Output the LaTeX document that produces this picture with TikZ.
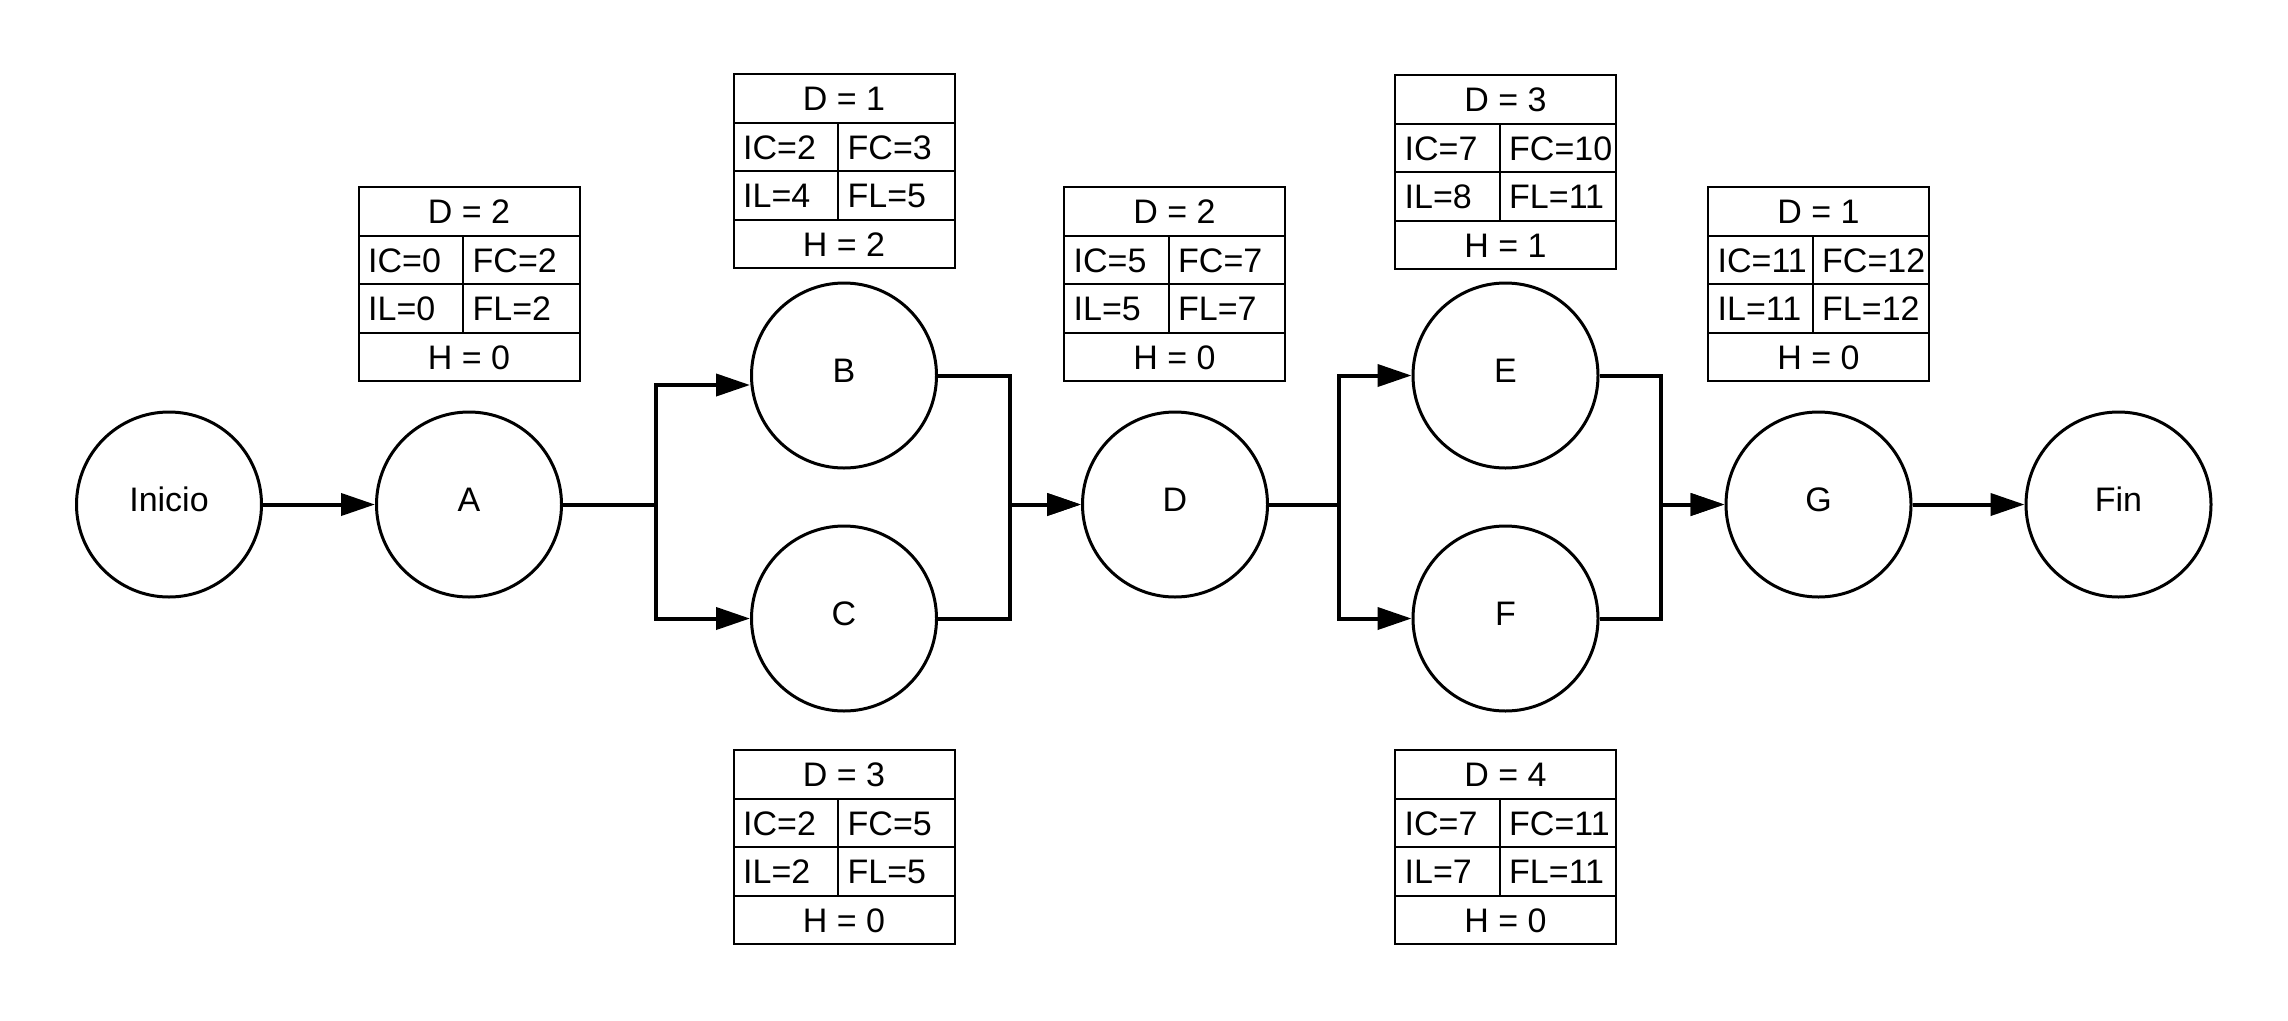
\documentclass[tikz,border=0pt]{standalone}
\usepackage{fontspec}
\setmainfont{Liberation Sans}
\usetikzlibrary{arrows.meta}
\newcommand{\cpmtab}[9]{%
  \node[tabbox] (#1) at (#2,#3) {};
  \foreach \k in {1,2,3} \draw[tabline] ([yshift=-\k*48.5pt]#1.north west) -- ([yshift=-\k*48.5pt]#1.north east);
  \draw[tabline] ([xshift=104.5pt,yshift=-48.5pt]#1.north west) -- ([xshift=104.5pt,yshift=-145.5pt]#1.north west);
  \node[tabtext] (#1d) at ([yshift=-24.25pt]#1.north) {#4};
  \node[tabtext,anchor=west] (#1ic) at ([xshift=9.5pt,yshift=-72.75pt]#1.north west) {#5};
  \node[tabtext,anchor=west] (#1fc) at ([xshift=114pt,yshift=-72.75pt]#1.north west) {#6};
  \node[tabtext,anchor=west] (#1il) at ([xshift=9.5pt,yshift=-121.25pt]#1.north west) {#7};
  \node[tabtext,anchor=west] (#1fl) at ([xshift=114pt,yshift=-121.25pt]#1.north west) {#8};
  \node[tabtext] (#1h) at ([yshift=-169.75pt]#1.north) {#9};
}
\begin{document}
\begin{tikzpicture}[x=1pt,y=-1pt,
  every node/.style={font=\fontsize{34}{40}\selectfont},
  evt/.style={circle, draw, line width=3pt, minimum size=185pt, inner sep=0pt, text height=25pt, text depth=12pt},
  conn/.style={line width=4pt, line join=miter},
  arr/.style={-{Triangle[length=34pt,width=22pt]}},
  tabbox/.style={draw, line width=2pt, minimum width=221pt, minimum height=194pt, inner sep=0pt, outer sep=0pt, anchor=north},
  tabline/.style={line width=2pt},
  tabtext/.style={inner sep=0pt, text height=24.8pt, text depth=0pt}]
\fill[white] (0,0) rectangle (2288,1020);
\useasboundingbox (0,0) rectangle (2288,1020);

% events
\node[evt] (Inicio) at (169,504.5) {Inicio};
\node[evt] (A) at (469,504.5) {A};
\node[evt] (B) at (844,375.5) {B};
\node[evt] (C) at (844,618.5) {C};
\node[evt] (D) at (1175,504.5) {D};
\node[evt] (E) at (1505.5,375.5) {E};
\node[evt] (F) at (1505.5,618.5) {F};
\node[evt] (G) at (1818.5,504.5) {G};
\node[evt] (Fin) at (2118.5,504.5) {Fin};

% tables
\cpmtab{tA}{469}{187}{D = 2}{IC=0}{FC=2}{IL=0}{FL=2}{H = 0}
\cpmtab{tB}{844}{74}{D = 1}{IC=2}{FC=3}{IL=4}{FL=5}{H = 2}
\cpmtab{tC}{844}{750}{D = 3}{IC=2}{FC=5}{IL=2}{FL=5}{H = 0}
\cpmtab{tD}{1174.5}{187}{D = 2}{IC=5}{FC=7}{IL=5}{FL=7}{H = 0}
\cpmtab{tE}{1505.5}{75}{D = 3}{IC=7}{FC=10}{IL=8}{FL=11}{H = 1}
\cpmtab{tF}{1505.5}{750}{D = 4}{IC=7}{FC=11}{IL=7}{FL=11}{H = 0}
\cpmtab{tG}{1818.5}{187}{D = 1}{IC=11}{FC=12}{IL=11}{FL=12}{H = 0}

% junction points
\coordinate (s1) at (656,504.5);
\coordinate (m1) at (1010,504.5);
\coordinate (s2) at (1339,504.5);
\coordinate (m2) at (1661,504.5);

% connectors
\draw[conn,arr] (Inicio) -- (A);
\draw[conn,arr] (A.east) -- (s1) |- ([yshift=-9.5pt]B.west);
\draw[conn,arr] (A.east) -- (s1) |- (C.west);
\draw[conn,arr] (B.east) -| (m1) -- (D.west);
\draw[conn,arr] (C.east) -| (m1) -- (D.west);
\draw[conn,arr] (D.east) -- (s2) |- (E.west);
\draw[conn,arr] (D.east) -- (s2) |- (F.west);
\draw[conn,arr] (E.east) -| (m2) -- (G.west);
\draw[conn,arr] (F.east) -| (m2) -- (G.west);
\draw[conn,arr] (G) -- (Fin);
\end{tikzpicture}
\end{document}
